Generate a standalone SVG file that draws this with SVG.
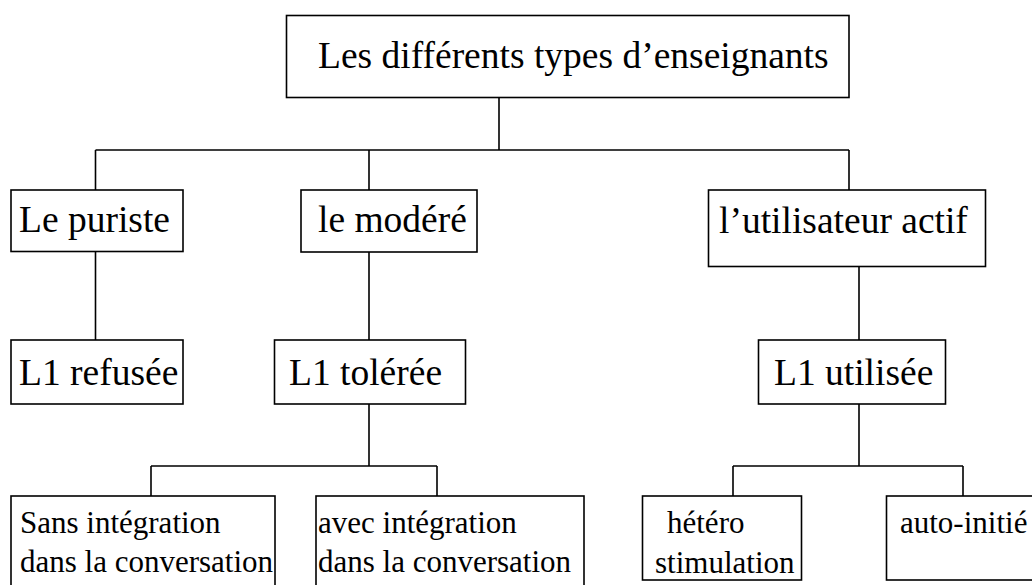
<svg xmlns="http://www.w3.org/2000/svg" width="1032" height="585" viewBox="0 0 1032 585">
<style>
.box{fill:#fff;stroke:#000;stroke-width:1.6}
.ln{fill:none;stroke:#000;stroke-width:1.6}
.t{font-family:"Liberation Serif","Times New Roman",serif;fill:#000}
.big{font-size:37.5px}
.sm{font-size:31px}
</style>
<rect width="1032" height="585" fill="#fff"/>
<g id="connectors">
<path class="ln" d="M499,97.5 V150 M95.5,150 H849 M95.5,150 V190 M369,150 V190 M849,150 V190"/>
<path class="ln" d="M95.5,251.5 V340 M369,252 V340 M859,266.5 V340"/>
<path class="ln" d="M369,404 V466 M151,466 H437 M151,466 V496 M437,466 V496"/>
<path class="ln" d="M859,404 V466 M733,466 H963 M733,466 V496 M963,466 V496"/>
</g>
<g id="root">
<rect class="box" x="286.5" y="15.5" width="562.5" height="82"/>
<text class="t big" x="318" y="68">Les différents types d’enseignants</text>
</g>
<g id="puriste">
<rect class="box" x="11" y="190" width="172" height="61.5"/>
<text class="t big" x="19" y="232">Le puriste</text>
</g>
<g id="modere">
<rect class="box" x="301" y="190" width="176" height="62"/>
<text class="t big" x="318" y="232">le modéré</text>
</g>
<g id="utilisateur">
<rect class="box" x="708.5" y="190" width="277" height="76.5"/>
<text class="t big" x="719" y="233">l’utilisateur actif</text>
</g>
<g id="refusee">
<rect class="box" x="11" y="340" width="172" height="64"/>
<text class="t big" x="19" y="385">L1 refusée</text>
</g>
<g id="toleree">
<rect class="box" x="274.5" y="340" width="191" height="64"/>
<text class="t big" x="289" y="385">L1 tolérée</text>
</g>
<g id="utilisee">
<rect class="box" x="758.5" y="340" width="187" height="64"/>
<text class="t big" x="774" y="385">L1 utilisée</text>
</g>
<g id="sans">
<rect class="box" x="11" y="496" width="264" height="100"/>
<text class="t sm" x="20" y="533">Sans intégration</text>
<text class="t sm" x="20" y="572">dans la conversation</text>
</g>
<g id="avec">
<rect class="box" x="316" y="496" width="268" height="100"/>
<text class="t sm" x="318" y="533">avec intégration</text>
<text class="t sm" x="318" y="572">dans la conversation</text>
</g>
<g id="hetero">
<rect class="box" x="642.5" y="496" width="159" height="84"/>
<text class="t sm" x="667" y="533">hétéro</text>
<text class="t sm" x="655" y="573">stimulation</text>
</g>
<g id="auto">
<rect class="box" x="886.5" y="496" width="160" height="84"/>
<text class="t sm" x="900" y="533">auto-initié</text>
</g>
</svg>
